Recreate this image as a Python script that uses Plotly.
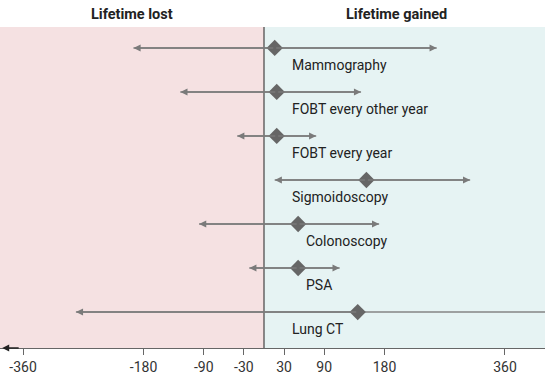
import plotly.graph_objects as go

# ---- data ----
tests = ["Mammography", "FOBT every other year", "FOBT every year",
         "Sigmoidoscopy", "Colonoscopy", "PSA", "Lung CT"]
estimate = [16, 19, 19, 153, 51, 51, 140]
lower = [-195, -125, -40, 16, -97, -22, -281]
upper = [258, 145, 78, 308, 172, 113, 430]
tick_vals = [-360, -180, -90, -30, 30, 90, 180, 360]
tick_text = ["-360", "-180", "-90", "-30", "30", "90", "180", "360"]
headers = ["Lifetime lost", "Lifetime gained"]

# ---- layout constants ----
XMIN, XMAX = -394.4, 419.8
label_x = [39, 39, 39, 39, 60, 60, 39]
FONT = "Roboto, Liberation Sans, Arial, sans-serif"
LINE_C = "#858585"
MARK_C = "#666666"

rows = list(range(len(tests)))

fig = go.Figure()

# background panels
fig.add_shape(type="rect", xref="x", yref="paper", x0=XMIN, x1=0, y0=0, y1=1,
              fillcolor="#f5e1e2", line_width=0, layer="below")
fig.add_shape(type="rect", xref="x", yref="paper", x0=0, x1=XMAX, y0=0, y1=1,
              fillcolor="#e6f3f3", line_width=0, layer="below")
fig.add_shape(type="line", xref="x", yref="paper", x0=0, x1=0, y0=0, y1=1,
              line=dict(color="#222222", width=1), layer="below")

# segments (clipped at plot edge)
xs, ys = [], []
for r, lo, hi in zip(rows, lower, upper):
    xs += [lo, hi, None]
    ys += [r, r, None]
fig.add_trace(go.Scatter(x=xs, y=ys, mode="lines",
                         line=dict(color=LINE_C, width=1.3),
                         hoverinfo="skip", showlegend=False))

# arrowheads at ends inside range
for r, lo, hi, est in zip(rows, lower, upper, estimate):
    for tip in (lo, hi):
        if XMIN < tip < XMAX:
            fig.add_annotation(x=tip, y=r, ax=est, ay=r, xref="x", yref="y",
                               axref="x", ayref="y", text="", showarrow=True,
                               arrowhead=2, arrowsize=1.1, arrowwidth=1.3,
                               arrowcolor="#7a7a7a", standoff=0)

# point estimates
fig.add_trace(go.Scatter(x=estimate, y=rows, mode="markers",
                         marker=dict(symbol="diamond", size=12.5, color=MARK_C,
                                     line=dict(width=0)),
                         hoverinfo="skip", showlegend=False))

# labels
for r, name, lx in zip(rows, tests, label_x):
    fig.add_annotation(x=lx, y=r, xref="x", yref="y", text=name,
                       showarrow=False, xanchor="left", yanchor="middle",
                       yshift=-17, font=dict(family=FONT, size=14, color="#222222"))

# headers
for name, px in zip(headers, [132 / 545, 396 / 545]):
    fig.add_annotation(x=px, y=1, xref="paper", yref="paper", text="<b>%s</b>" % name,
                       showarrow=False, xanchor="center", yanchor="bottom", yshift=2,
                       font=dict(family=FONT, size=14.5, color="#222222"))

# left arrow on axis
fig.add_annotation(x=0.004, y=0, xref="paper", yref="paper", ax=18, ay=0,
                   axref="pixel", ayref="pixel", text="", showarrow=True,
                   arrowhead=2, arrowsize=1.0, arrowwidth=1.4, arrowcolor="#222222",
                   standoff=0)

fig.update_xaxes(range=[XMIN, XMAX], showgrid=False, zeroline=False,
                 showline=True, linecolor="#666666", linewidth=1.2,
                 ticks="outside", ticklen=6, tickcolor="#666666", tickwidth=1,
                 tickvals=tick_vals, ticktext=tick_text,
                 tickfont=dict(family=FONT, size=14, color="#333333"))
fig.update_yaxes(range=[6.818, -0.477], showgrid=False, zeroline=False,
                 showticklabels=False, showline=False)

fig.update_layout(width=548, height=382,
                  margin=dict(l=0, r=3, t=27, b=34, autoexpand=False),
                  paper_bgcolor="white", plot_bgcolor="rgba(0,0,0,0)",
                  font=dict(family=FONT))

fig.write_html("out.html", config={"displayModeBar": False},
               post_script="document.body.style.margin='0';document.body.style.overflow='hidden';")
